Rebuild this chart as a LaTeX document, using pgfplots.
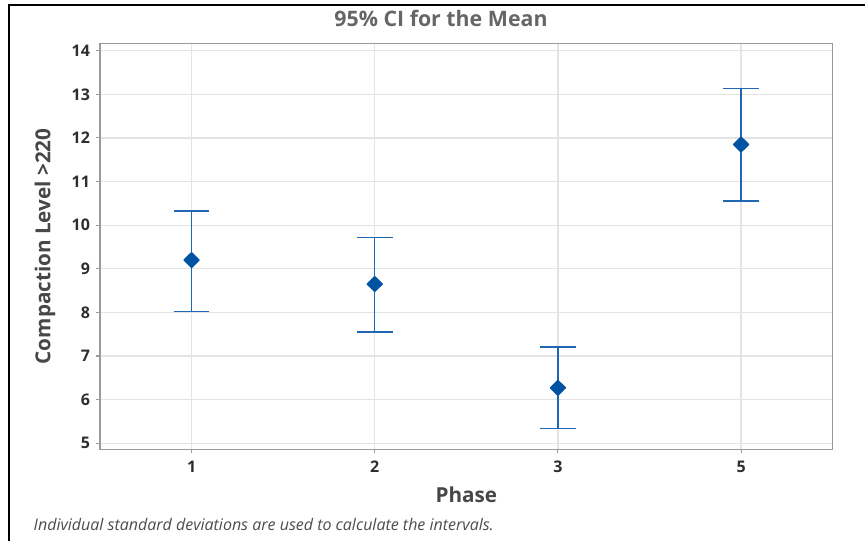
\documentclass[border=0pt]{standalone}
\usepackage{fontspec}
\setmainfont{Open Sans}
\usepackage{pgfplots}
\pgfplotsset{compat=1.18}
\definecolor{bluebar}{HTML}{1F66B3}
\definecolor{bluemark}{HTML}{0052A3}
\definecolor{gridc}{HTML}{E4E4E4}
\definecolor{framec}{HTML}{9A9A9A}
\definecolor{txt}{HTML}{2E2E2E}
\begin{document}
\begin{tikzpicture}
\begin{axis}[
  at={(75pt,-337pt)}, anchor=south west,
  scale only axis, width=549.5pt, height=304.5pt,
  xmin=-0.5, xmax=3.5, ymin=4.86, ymax=14.17,
  xtick={0,1,2,3}, xticklabels={1,2,3,5},
  ytick={5,6,...,14},
  grid=major, major grid style={gridc, line width=1pt},
  axis line style={framec, line width=1.1pt},
  tick style={framec, line width=0.8pt},
  major tick length=3pt,
  tick align=outside, xtick pos=bottom, ytick pos=left,
  /pgf/number format/assume math mode=true,
  tick label style={font=\bfseries\fontsize{12}{14}\selectfont, text=txt},
  yticklabel style={xshift=-1pt},
  xticklabel style={yshift=-2pt},
  xlabel={Phase}, ylabel={Compaction Level >220},
  label style={font=\bfseries\fontsize{15.5}{18}\selectfont, text=black!72},
  xlabel style={at={(axis description cs:0.5,-0.111)}, anchor=center},
  ylabel style={at={(axis description cs:-0.075,0.5)}, anchor=center},
]
\addplot[
  only marks, mark=diamond*, mark size=5.3pt,
  mark options={bluemark, fill=bluemark, xscale=1.35, line join=round, line width=1.4pt},
  error bars/.cd, y dir=both, y explicit,
  error bar style={bluebar, line width=1.1pt},
  error mark options={rotate=90, mark size=13.4pt, bluebar, line width=1.1pt},
] table[x=x, y=y, y error plus=ep, y error minus=em] {
x y ep em
0 9.20 1.13 1.18
1 8.65 1.07 1.10
2 6.27 0.94 0.93
3 11.85 1.29 1.30
};
\end{axis}
\begin{scope}[x=0.75pt, y=-0.75pt]
\draw[black, line width=1.4pt] (9.3,541) -- (9.3,4.7) -- (865,4.7);
\node[font=\bfseries\fontsize{16}{19}\selectfont, text=black!60] at (441,18) {95\% CI for the Mean};
\node[anchor=west, font=\itshape\fontsize{12}{14}\selectfont, text=black!70] at (29,525) {Individual standard deviations are used to calculate the intervals.};
\end{scope}
\pgfresetboundingbox
\path[use as bounding box] (0,0) rectangle (648.75pt,-405.75pt);
\end{tikzpicture}
\end{document}
